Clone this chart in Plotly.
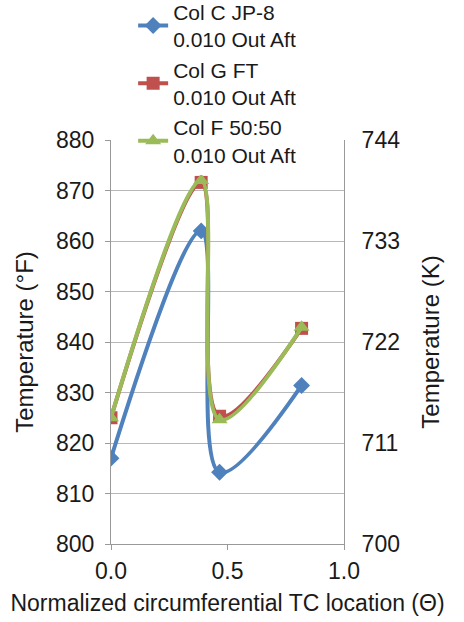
import plotly.graph_objects as go

x_vals = [0.0, 0.387, 0.466, 0.818]
col_c = [817.0, 862.0, 814.2, 831.4]
col_g = [825.0, 871.6, 825.3, 842.7]
col_f = [825.0, 872.0, 824.6, 842.9]

names = ["Col C JP-8<br>0.010 Out Aft", "Col G FT<br>0.010 Out Aft", "Col F 50:50<br>0.010 Out Aft"]
colors = ["#4F81BD", "#C0504D", "#9BBB59"]
symbols = ["diamond", "square", "triangle-up"]
sizes = [13, 13, 14]

y_ticks_f = [800, 810, 820, 830, 840, 850, 860, 870, 880]
y_ticks_k = [700, 711, 722, 733, 744]
x_ticks = [0.0, 0.5, 1.0]
x_tick_text = ["0.0", "0.5", "1.0"]

FONT = "Liberation Sans, Arial, sans-serif"
TXT = "#1a1a1a"
fig = go.Figure()
for i, ys in enumerate([col_c, col_g, col_f]):
    fig.add_trace(go.Scatter(
        x=x_vals, y=ys, name=names[i], mode="lines+markers",
        line=dict(color=colors[i], width=4, shape="spline", smoothing=1.0),
        marker=dict(symbol=symbols[i], size=sizes[i], color=colors[i]),
        legendgroup=f"g{i}",
    ))

# invisible companion trace in kelvin so the secondary axis is drawn
col_c_k = [(v - 32) * 5 / 9 + 273.15 for v in col_c]
fig.add_trace(go.Scatter(x=x_vals, y=col_c_k, yaxis="y2", mode="lines",
                         line=dict(width=0), opacity=0, showlegend=False,
                         hoverinfo="skip"))

fig.update_layout(
    width=464, height=622,
    margin=dict(l=111, r=120, t=140, b=78, autoexpand=False),
    paper_bgcolor="white", plot_bgcolor="white",
    font=dict(family=FONT, size=23, color=TXT),
    showlegend=True,
    legend=dict(x=0.095, y=1.367, xanchor="left", yanchor="top",
                bgcolor="white", font=dict(size=21, color=TXT),
                tracegroupgap=0, traceorder="grouped",
                borderwidth=0),
    xaxis=dict(range=[0, 1], tickvals=x_ticks, ticktext=x_tick_text,
               showgrid=False, zeroline=False, showline=True, linecolor="#999",
               linewidth=1, ticks="outside", ticklen=5, tickcolor="#999",
               tickfont=dict(size=23), ticklabelstandoff=1,
               title=dict(text="Normalized circumferential TC location (Θ)",
                          font=dict(size=23), standoff=12)),
    yaxis=dict(range=[800, 880], tickvals=y_ticks_f, showgrid=True, gridcolor="#B8B8B8",
               zeroline=False, showline=True, linecolor="#999", ticks="outside",
               ticklen=5, tickcolor="#999", tickfont=dict(size=23),
               ticklabelstandoff=6,
               title=dict(text="Temperature (°F)", font=dict(size=24), standoff=15)),
    yaxis2=dict(range=[700, 744], tickvals=y_ticks_k, overlaying="y", side="right",
                showgrid=False, zeroline=False, showline=True, linecolor="#999",
                ticks="", tickfont=dict(size=23), ticklabelstandoff=12,
                title=dict(text="Temperature (K)", font=dict(size=24), standoff=23)),
)

fig.write_html("out.html")
